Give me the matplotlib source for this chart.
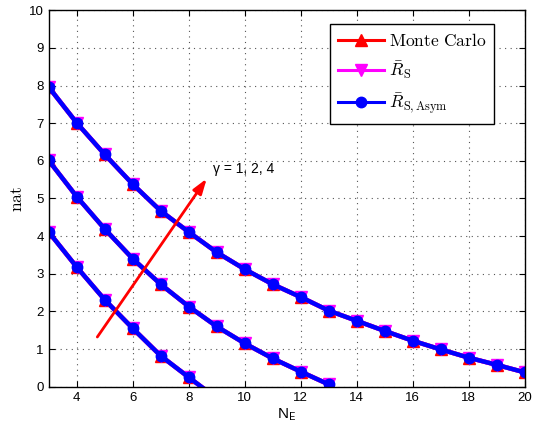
import numpy as np
import matplotlib
matplotlib.use('Agg')
import matplotlib.pyplot as plt

plt.rcParams['mathtext.fontset'] = 'cm'
plt.rcParams['font.family'] = ['Liberation Sans', 'DejaVu Sans']

# data (gamma = 1, 2, 4)
ne_g1 = [3, 4, 5, 6, 7, 8, 9]
rate_g1 = [4.11, 3.18, 2.31, 1.55, 0.82, 0.25, -0.31]
ne_g2 = [3, 4, 5, 6, 7, 8, 9, 10, 11, 12, 13]
rate_g2 = [6.01, 5.05, 4.19, 3.40, 2.72, 2.13, 1.60, 1.15, 0.75, 0.40, 0.06]
ne_g4 = list(range(3, 21))
rate_g4 = [7.96, 7.01, 6.17, 5.38, 4.67, 4.11, 3.57, 3.12, 2.72, 2.38,
           2.02, 1.75, 1.48, 1.22, 0.99, 0.77, 0.58, 0.38]

series = [(ne_g1, rate_g1), (ne_g2, rate_g2), (ne_g4, rate_g4)]

fig = plt.figure(figsize=(5.35, 4.29), dpi=100)
ax = fig.add_axes([0.091, 0.0986, 0.89, 0.8774])

styles = [
    dict(color='red', marker='^', ms=9, label=r'$\mathrm{Monte\ Carlo}$'),
    dict(color='magenta', marker='v', ms=8.5, label=r'$\bar{R}_{\mathrm{S}}$'),
    dict(color='blue', marker='o', ms=7.5, label=r'$\bar{R}_{\mathrm{S,Asym}}$'),
]
for st in styles:
    for i, (x, y) in enumerate(series):
        ax.plot(x, y, color=st['color'], marker=st['marker'], ms=st['ms'],
                lw=3.2, mec=st['color'], mfc=st['color'],
                label=st['label'] if i == 0 else None)

ax.annotate('', xy=(8.7, 5.59), xytext=(4.68, 1.26),
            arrowprops=dict(arrowstyle='-|>,head_length=0.9,head_width=0.3',
                            color='red', lw=2))
ax.text(8.85, 5.78, 'γ = 1, 2, 4', fontsize=10, va='center')

ax.set_xlim(3, 20)
ax.set_ylim(0, 10)
ax.set_xticks(range(4, 21, 2))
ax.set_yticks(range(0, 11))
ax.tick_params(direction='in', top=True, right=True, labelsize=9.5,
               length=4, width=0.8)
ax.grid(True, linestyle=(0, (1, 4)), color='#555555', lw=0.8)
for sp in ax.spines.values():
    sp.set_linewidth(1.0)

ax.set_xlabel(r'N$_\mathsf{E}$', fontsize=11, labelpad=2)
ax.set_ylabel(r'$\mathrm{nat}$', fontsize=12.5, labelpad=3)

leg = ax.legend(loc='upper right', bbox_to_anchor=(0.9355, 0.964),
                borderaxespad=0, fontsize=12.6, fancybox=False,
                edgecolor='black', framealpha=1, borderpad=0.45,
                handlelength=2.6, labelspacing=0.6, handletextpad=0.3)
leg.get_frame().set_linewidth(1.0)
for h in leg.legend_handles:
    h.set_linewidth(2.2)

fig.savefig('out.png', dpi=100)
